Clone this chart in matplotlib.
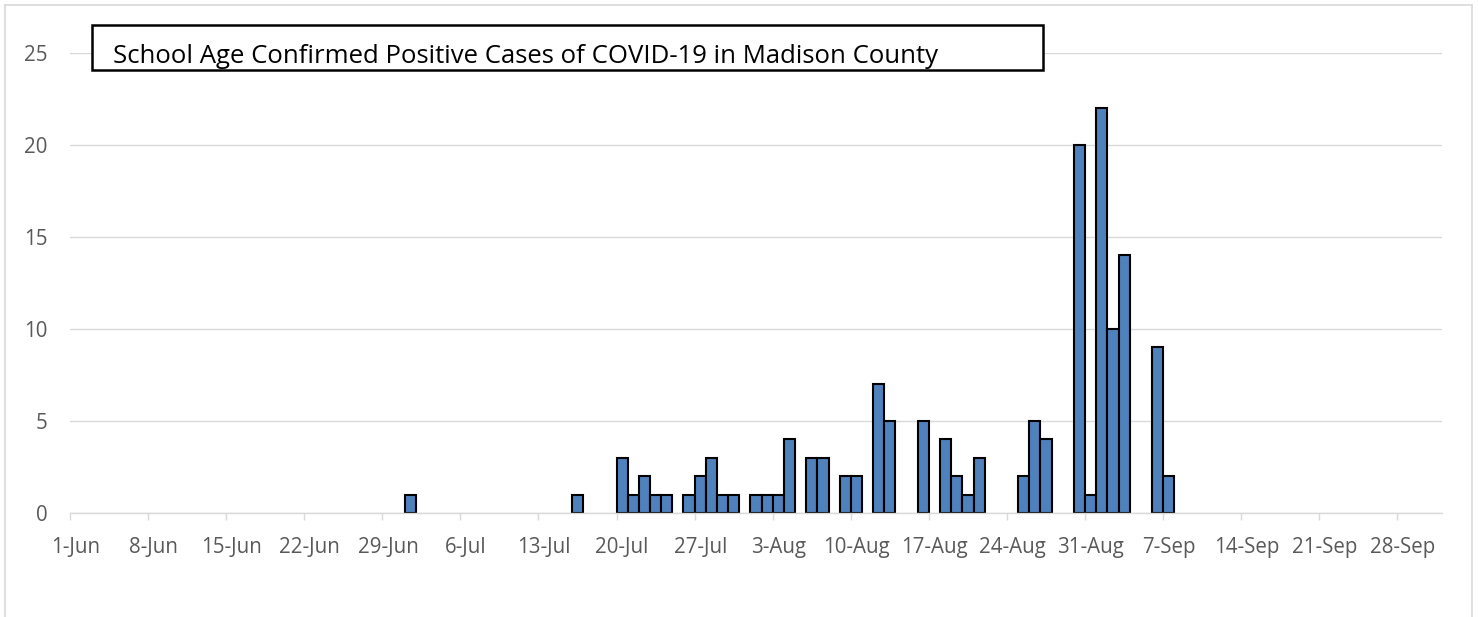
import numpy as np
import pandas as pd
import matplotlib
matplotlib.use("Agg")
import matplotlib.pyplot as plt
import matplotlib.dates as mdates
from matplotlib.patches import Rectangle
from matplotlib.lines import Line2D

# daily counts (days not listed have zero cases)
case_dates = ["2020-07-01", "2020-07-16",
              "2020-07-20", "2020-07-21", "2020-07-22", "2020-07-23", "2020-07-24",
              "2020-07-26", "2020-07-27", "2020-07-28", "2020-07-29", "2020-07-30",
              "2020-08-01", "2020-08-02", "2020-08-03", "2020-08-04",
              "2020-08-06", "2020-08-07", "2020-08-09", "2020-08-10",
              "2020-08-12", "2020-08-13", "2020-08-16",
              "2020-08-18", "2020-08-19", "2020-08-20", "2020-08-21",
              "2020-08-25", "2020-08-26", "2020-08-27",
              "2020-08-30", "2020-08-31", "2020-09-01", "2020-09-02", "2020-09-03",
              "2020-09-06", "2020-09-07"]
cases = [1, 1,
         3, 1, 2, 1, 1,
         1, 2, 3, 1, 1,
         1, 1, 1, 4,
         3, 3, 2, 2,
         7, 5, 5,
         4, 2, 1, 3,
         2, 5, 4,
         20, 1, 22, 10, 14,
         9, 2]

axis_start = "2020-06-01"
axis_end = "2020-10-02"
tick_dates = pd.date_range("2020-06-01", "2020-09-28", freq="7D")
tick_labels = [f"{d.day}-{d.strftime('%b')}" for d in tick_dates]
y_ticks = [0, 5, 10, 15, 20, 25]
title = "School Age Confirmed Positive Cases of COVID-19 in Madison County"

plt.rcParams['font.family'] = ['Open Sans', 'DejaVu Sans']

W, H = 1478, 617
fig = plt.figure(figsize=(W / 100, H / 100), dpi=100)
ax = fig.add_axes([70 / W, 1 - 513 / H, 1372 / W, 460 / H])

x = mdates.date2num(pd.to_datetime(case_dates))
ax.bar(x, cases, width=1.0, align="edge", color="#4f81bd",
       edgecolor="black", linewidth=1.5, zorder=3)

ax.set_xlim(mdates.date2num(pd.Timestamp(axis_start)),
            mdates.date2num(pd.Timestamp(axis_end)))
ax.set_ylim(0, 25)

grid_c = "#d9d9d9"
txt_c = "#595959"

# tick marks at the week boundaries, labels centred on the day slot
tick_x = mdates.date2num(tick_dates)
ax.set_xticks(tick_x)
ax.set_xticklabels([])
ax.tick_params(axis="x", which="major", length=5, width=1, color=grid_c)
ax.set_xticks(tick_x + 0.5, minor=True)
ax.set_xticklabels(tick_labels, minor=True)
ax.tick_params(axis="x", which="minor", length=0, pad=17, labelsize=14.8,
               labelcolor=txt_c)

ax.set_yticks(y_ticks)
ax.tick_params(axis="y", length=0, pad=16, labelsize=14.8, labelcolor=txt_c)
ax.yaxis.grid(True, color=grid_c, linewidth=1.0, zorder=0)

for s in ["top", "right", "left"]:
    ax.spines[s].set_visible(False)
ax.spines["bottom"].set_color(grid_c)
ax.spines["bottom"].set_linewidth(1.0)
ax.spines["bottom"].set_zorder(4)

# title text box
fig.patches.append(Rectangle((92 / W, 1 - 70 / H), (1043 - 92) / W, 45 / H,
                             transform=fig.transFigure, facecolor="white",
                             edgecolor="black", linewidth=1.8, zorder=5))
fig.text(113 / W, 1 - 63 / H, title, fontsize=18.5, color="black",
         ha="left", va="baseline", zorder=6)

# chart area border
for xs, ys in [([5, 5], [5, H]), ([1472, 1472], [5, H]), ([5, 1472], [5, 5])]:
    fig.lines.append(Line2D([v / W for v in xs], [1 - v / H for v in ys],
                            transform=fig.transFigure, color=grid_c, linewidth=1.2))

fig.savefig("out.png", dpi=100)
